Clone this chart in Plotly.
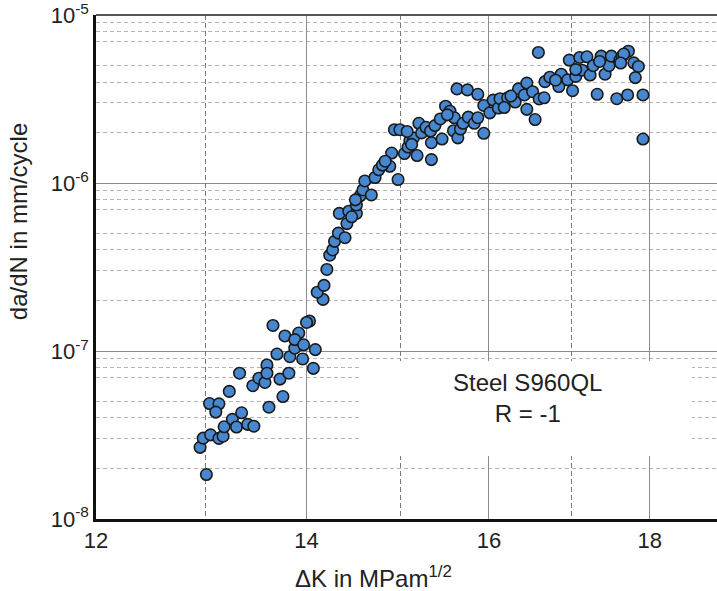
import math
import plotly.graph_objects as go

# Delta K values (MPa m^1/2) and crack growth rates (mm/cycle)
dk_low = [13.01, 12.95, 12.98, 13.05, 13.13, 13.17, 13.18, 13.26, 13.30, 13.35,
          13.41, 13.47, 13.04, 13.13, 13.10, 13.23, 13.33, 13.46, 13.52, 13.58,
          13.60, 13.60, 13.62, 13.73, 13.76, 13.82, 13.66, 13.70, 13.78, 13.83,
          13.88, 13.92, 13.88, 13.96, 13.97, 14.07, 14.09, 14.03, 14.00]
rate_low = [1.84e-8, 2.67e-8, 3.03e-8, 3.17e-8, 3.02e-8, 3.11e-8, 3.54e-8, 3.92e-8, 3.53e-8, 4.29e-8,
            3.66e-8, 3.57e-8, 4.87e-8, 4.85e-8, 4.33e-8, 5.75e-8, 7.38e-8, 6.22e-8, 6.89e-8, 6.50e-8,
            8.26e-8, 7.38e-8, 4.63e-8, 6.81e-8, 5.36e-8, 7.38e-8, 1.42e-7, 9.60e-8, 1.23e-7, 9.25e-8,
            1.04e-7, 1.28e-7, 1.17e-7, 8.97e-8, 1.09e-7, 7.89e-8, 1.02e-7, 1.51e-7, 1.48e-7]

dk_mid = [14.17, 14.11, 14.18, 14.21, 14.24, 14.27, 14.29, 14.33, 14.40, 14.42,
          14.34, 14.44, 14.52, 14.52, 14.56, 14.59, 14.68, 14.61, 14.72, 14.76,
          14.88, 14.97, 14.51, 14.47, 14.80]
rate_mid = [2.03e-7, 2.24e-7, 2.46e-7, 3.06e-7, 3.72e-7, 4.00e-7, 4.50e-7, 5.04e-7, 4.73e-7, 5.74e-7,
            6.60e-7, 6.80e-7, 6.60e-7, 7.40e-7, 8.40e-7, 9.10e-7, 8.50e-7, 1.03e-6, 1.08e-6, 1.20e-6,
            1.26e-6, 1.05e-6, 7.95e-7, 6.30e-7, 1.28e-6]

dk_upper = [14.90, 14.83, 15.04, 15.08, 15.18, 15.10, 15.14, 14.93, 14.99, 15.07,
            15.20, 15.23, 15.28, 15.33, 15.34, 15.34, 15.38, 15.44, 15.46, 15.50,
            15.55, 15.60, 15.59, 15.64, 15.67, 15.70, 15.76, 15.83, 15.87, 15.63,
            15.75, 15.87, 15.94, 15.94, 16.01, 16.05, 16.11, 16.13, 16.22, 16.18,
            16.31, 16.35, 16.42, 16.45, 16.45, 15.12, 15.52, 16.26]
rate_upper = [1.51e-6, 1.35e-6, 1.50e-6, 1.64e-6, 1.46e-6, 1.79e-6, 1.86e-6, 2.08e-6, 2.08e-6, 2.03e-6,
              2.27e-6, 1.99e-6, 2.15e-6, 2.04e-6, 1.74e-6, 1.38e-6, 2.20e-6, 2.41e-6, 1.83e-6, 2.87e-6,
              2.68e-6, 2.45e-6, 2.05e-6, 1.86e-6, 2.10e-6, 2.27e-6, 2.47e-6, 2.27e-6, 2.45e-6, 3.64e-6,
              3.59e-6, 3.38e-6, 2.90e-6, 1.98e-6, 2.62e-6, 3.12e-6, 2.80e-6, 3.18e-6, 3.22e-6, 2.82e-6,
              3.04e-6, 3.64e-6, 3.35e-6, 3.94e-6, 2.75e-6, 1.70e-6, 2.55e-6, 3.30e-6]

dk_top = [16.59, 16.55, 16.52, 16.60, 16.66, 16.67, 16.73, 16.84, 16.87, 16.95,
          17.01, 16.97, 17.05, 17.10, 17.13, 17.19, 17.23, 17.27, 17.32, 17.37,
          17.42, 17.47, 17.50, 17.57, 17.61, 17.64, 17.71, 17.72, 17.79, 17.85,
          17.81, 17.91, 17.91, 17.66, 17.62, 17.05, 16.80, 17.35]
rate_top = [6.00e-6, 2.39e-6, 3.50e-6, 3.17e-6, 3.22e-6, 4.02e-6, 4.27e-6, 3.76e-6, 4.45e-6, 4.12e-6,
            3.55e-6, 5.40e-6, 4.32e-6, 5.60e-6, 4.70e-6, 5.65e-6, 4.40e-6, 5.00e-6, 3.38e-6, 5.70e-6,
            4.45e-6, 5.00e-6, 5.70e-6, 3.18e-6, 5.40e-6, 5.70e-6, 3.35e-6, 6.10e-6, 5.20e-6, 4.95e-6,
            4.25e-6, 3.35e-6, 1.83e-6, 5.87e-6, 5.19e-6, 4.74e-6, 4.10e-6, 5.30e-6]

delta_k = dk_low + dk_mid + dk_upper + dk_top
dadn = rate_low + rate_mid + rate_upper + rate_top

x_major = [12, 14, 16, 18]
x_minor = [13, 15, 17]
y_major = [1e-8, 1e-7, 1e-6, 1e-5]
y_major_text = ["10<sup>-8</sup>", "10<sup>-7</sup>", "10<sup>-6</sup>", "10<sup>-5</sup>"]
y_minor = [m * d for d in [1e-8, 1e-7, 1e-6] for m in [2, 3, 4, 5, 7, 8, 9]]

MARGIN_R = 0
PX_PER_DECADE = 3145
FIG_W = 717
PLOT_W = FIG_W - 96 - MARGIN_R
X_RANGE = [math.log10(12), math.log10(12) + PLOT_W / PX_PER_DECADE]
Y_RANGE = [-8.0, -4.999]

FONT = "Liberation Sans, Arial, sans-serif"

fig = go.Figure()
fig.add_trace(go.Scatter(
    x=delta_k, y=dadn, mode="markers",
    marker=dict(size=11.5, color="#4787cf", line=dict(color="#1a1a1a", width=1.6)),
    showlegend=False, hoverinfo="skip",
))
# invisible trace on an overlaying axis that carries the dashed 13/15/17 grid
fig.add_trace(go.Scatter(x=[x_minor[0]], y=[y_major[0]], xaxis="x2", mode="markers",
                         marker=dict(opacity=0), showlegend=False, hoverinfo="skip"))

fig.update_layout(
    width=FIG_W, height=591,
    margin=dict(l=96, r=MARGIN_R, t=10, b=72),
    paper_bgcolor="white", plot_bgcolor="white",
    font=dict(family=FONT, size=22, color="#222"),
    showlegend=False,
    xaxis=dict(
        type="log", range=X_RANGE,
        tickmode="array", tickvals=x_major, ticktext=[str(v) for v in x_major],
        showgrid=True, gridcolor="#8c8c8c", gridwidth=1,
        showline=True, linecolor="#111", linewidth=2.5, mirror=False,
        ticks="", zeroline=False,
        tickfont=dict(size=22, color="#222"),
    ),
    xaxis2=dict(
        type="log", range=X_RANGE, overlaying="x", side="bottom",
        tickmode="array", tickvals=x_minor, showticklabels=False,
        showgrid=True, gridcolor="#7a7a7a", gridwidth=1, griddash="5px,3px",
        showline=False, ticks="", zeroline=False,
    ),
    yaxis=dict(
        type="log", range=Y_RANGE,
        tickmode="array", tickvals=y_major, ticktext=y_major_text,
        showgrid=True, gridcolor="#8c8c8c", gridwidth=1,
        showline=True, linecolor="#111", linewidth=2.5, mirror=False,
        ticks="", zeroline=False, ticklabeloverflow="allow",
        tickfont=dict(size=22, color="#222"),
        minor=dict(tickmode="array", tickvals=y_minor, showgrid=True,
                   gridcolor="#b4b4b4", gridwidth=1, griddash="4px,3px", ticks=""),
    ),
    shapes=[
        dict(type="line", xref="paper", yref="paper", x0=0, x1=1, y0=1, y1=1,
             line=dict(color="#555", width=2)),
    ],
    annotations=[
        # white panel behind the material label
        dict(xref="paper", yref="paper", x=(527 - 96) / PLOT_W, y=(519 - 407) / 509,
             showarrow=False, text=" ", width=330, height=95, bgcolor="white",
             borderpad=0, borderwidth=0, xanchor="center", yanchor="middle"),
        dict(xref="paper", yref="paper", x=(527 - 96) / PLOT_W, y=0.240, showarrow=False,
             text="Steel S960QL<br>R = -1", font=dict(size=24, color="#222", family=FONT),
             xanchor="center", yanchor="middle", align="center"),
        dict(xref="paper", yref="paper", x=-78 / PLOT_W, y=0.589, showarrow=False,
             text="da/dN in mm/cycle", textangle=-90, font=dict(size=24, color="#222", family=FONT),
             xanchor="center", yanchor="middle"),
        dict(xref="paper", yref="paper", x=(373 - 96) / PLOT_W, y=-0.116, showarrow=False,
             text="ΔK in MPam<sup>1/2</sup>", font=dict(size=24, color="#222", family=FONT),
             xanchor="center", yanchor="middle"),
    ],
)

fig.write_html("out.html")
